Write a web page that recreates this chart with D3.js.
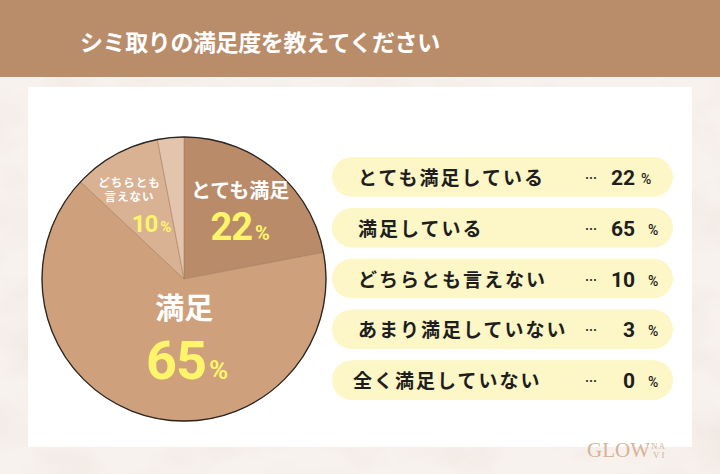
<!DOCTYPE html>
<html><head><meta charset="utf-8">
<script src="https://cdn.jsdelivr.net/npm/d3@7/dist/d3.min.js"></script>
<style>html,body{margin:0;padding:0;background:#f5efea;}svg{display:block;}</style>
</head><body>
<svg id="chart" width="720" height="474"></svg>
<script>
const title = "シミ取りの満足度を教えてください";
const categories = ["とても満足している","満足している","どちらとも言えない","あまり満足していない","全く満足していない"];
const values = [22, 65, 10, 3, 0];
const pieLabels = [["とても満足"], ["満足"], ["どちらとも","言えない"], [], []];
const sliceColors = ["#b98b69", "#cfa07c", "#d9b294", "#e3c5ae", "#ecd8c8"];

const W = 720, H = 474;
const svg = d3.select("#chart");
const JP = "'Noto Sans CJK JP','Noto Sans',sans-serif";
const NUM = "Roboto,'Noto Sans',sans-serif";

// background texture
const defs = svg.append("defs");
const f = defs.append("filter").attr("id","marble").attr("x",0).attr("y",0).attr("width","100%").attr("height","100%");
f.append("feTurbulence").attr("type","fractalNoise").attr("baseFrequency","0.012 0.02").attr("numOctaves",4).attr("seed",7).attr("result","n");
f.append("feColorMatrix").attr("in","n").attr("type","matrix")
 .attr("values","0 0 0 0 0.86  0 0 0 0 0.76  0 0 0 0 0.70  0 0 0 -2.2 1.35");
svg.append("rect").attr("width",W).attr("height",H).attr("fill","#f7f2ee");
svg.append("rect").attr("width",W).attr("height",H).attr("filter","url(#marble)").attr("opacity",0.55);

// header
svg.append("rect").attr("x",0).attr("y",0).attr("width",W).attr("height",77).attr("fill","#b98c6a");
svg.append("text").attr("x",80).attr("y",51).attr("fill","#fff")
  .attr("font-family",JP).attr("font-weight",700).attr("font-size",23).attr("letter-spacing",-0.4)
  .text(title);

// card
svg.append("rect").attr("x",28).attr("y",87).attr("width",664).attr("height",360).attr("fill","#ffffff");

// pie
const cx = 184, cy = 279, R = 142;
const pie = d3.pie().sort(null).value(d => d).startAngle(0).endAngle(2*Math.PI);
const arcs = pie(values);
const arc = d3.arc().innerRadius(0).outerRadius(R);
const g = svg.append("g").attr("transform",`translate(${cx},${cy})`);
g.selectAll("path.slice").data(arcs.filter(d => d.value > 0)).join("path")
  .attr("class","slice").attr("d",arc)
  .attr("fill",(d) => sliceColors[d.index])
  .attr("stroke","#a8805f").attr("stroke-width",0.6);
g.append("circle").attr("r",R).attr("fill","none").attr("stroke","#2b2622").attr("stroke-width",1.3);

// pie labels
const labelCfg = [
  {rf:0.62, nameDx:0,   numDx:0,  nameSize:20,   numSize:38, pctSize:20, nameDy:-13, numDy:29, lineH:0},
  {rf:0.45, nameDx:18,  numDx:21, nameSize:29,   numSize:54, pctSize:26, nameDy:-21, numDy:39, lineH:0},
  {rf:0.62, nameDx:-12, numDx:10, nameSize:11.5, numSize:24, pctSize:15, nameDy:-15, numDy:30, lineH:14.5}
];
arcs.forEach((d,i) => {
  const c = labelCfg[i];
  if (!c) return;
  const la = d3.arc().innerRadius(R*c.rf).outerRadius(R*c.rf);
  const [x,y] = la.centroid(d);
  const lg = g.append("g").attr("transform",`translate(${x},${y})`);
  pieLabels[i].forEach((t,k) => {
    lg.append("text").attr("x",c.nameDx).attr("y",c.nameDy + k*c.lineH)
      .attr("text-anchor","middle").attr("fill","#fff")
      .attr("font-family",JP).attr("font-weight",700).attr("font-size",c.nameSize)
      .attr("letter-spacing", c.nameSize < 14 ? 1 : 0)
      .text(t);
  });
  const nt = lg.append("text").attr("x",c.numDx).attr("y",c.numDy).attr("text-anchor","middle")
    .attr("fill","#fff56a").attr("font-family",NUM).attr("font-weight",700);
  nt.append("tspan").attr("font-size",c.numSize).attr("letter-spacing",-1).text(d.value);
  nt.append("tspan").attr("font-size",c.pctSize).attr("dx",3).text("%");
});

// legend pills
const y = d3.scaleBand().domain(categories).range([152, 405]).paddingInner(0.22).paddingOuter(0.1);
const pillX0 = 332, pillX1 = 673;
const rows = svg.selectAll("g.row").data(categories).join("g").attr("class","row")
  .attr("transform", d => `translate(0,${y(d) + y.bandwidth()/2})`);
rows.append("rect").attr("x",pillX0).attr("y",-y.bandwidth()/2).attr("width",pillX1-pillX0)
  .attr("height",y.bandwidth()).attr("rx",y.bandwidth()/2).attr("fill","#fdf6c6");
rows.append("text").attr("x",(d,i) => i===4 ? 353 : 358).attr("y",8)
  .attr("fill","#1e1e1e").attr("font-family",JP).attr("font-weight",700).attr("font-size",19)
  .attr("letter-spacing",2).text(d => d);
rows.append("text").attr("x",585).attr("y",6).attr("fill","#1e1e1e")
  .attr("font-family",JP).attr("font-weight",700).attr("font-size",12).text("…");
rows.append("text").attr("x",635).attr("y",8).attr("text-anchor","end").attr("fill","#1e1e1e")
  .attr("font-family",NUM).attr("font-weight",700).attr("font-size",21)
  .text((d,i) => values[i]);
rows.append("text").attr("x",(d,i) => i===0 ? 641 : 648).attr("y",7).attr("fill","#1e1e1e")
  .attr("font-family",NUM).attr("font-weight",500).attr("font-size",14).text("%");

// logo
const logo = svg.append("g").attr("fill","#d6b399").attr("font-family","'Liberation Serif','DejaVu Serif',serif");
logo.append("text").attr("x",587).attr("y",457).attr("font-size",21).text("GLOW");
logo.append("text").attr("x",651).attr("y",449).attr("font-size",9).attr("letter-spacing",1).text("NA");
logo.append("text").attr("x",653).attr("y",458).attr("font-size",9).attr("letter-spacing",2).text("VI");
</script>
</body></html>
